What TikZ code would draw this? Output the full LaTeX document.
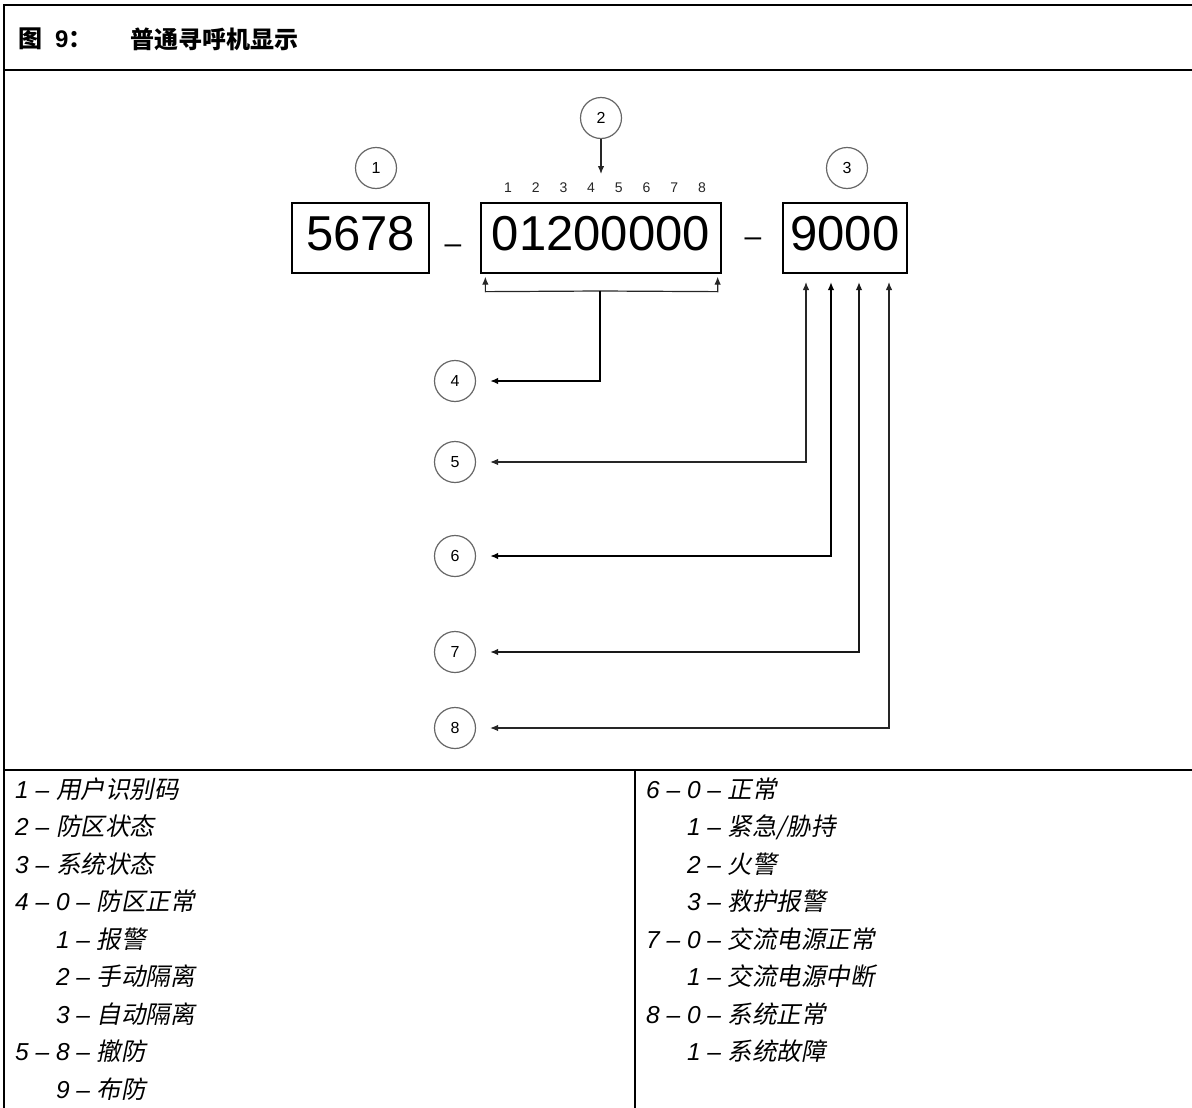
\documentclass[tikz,border=0pt]{standalone}
\usepackage{fontspec}
\setmainfont{Liberation Sans}
\newfontfamily\cjk{Noto Sans CJK SC}
\newfontfamily\cjkit{Noto Sans CJK SC}[FakeSlant=0.2]
\usetikzlibrary{arrows.meta,calc}
\newcommand{\zhit}[1]{{\cjkit #1}}
\begin{document}
\begin{tikzpicture}[x=1pt,y=-1pt,
  >={Latex[length=8pt,width=6.5pt]},
  frameline/.style={line width=2.7pt,black},
  valbox/.style={draw=black,line width=1.3pt,minimum height=70pt,inner sep=0pt},
  bignum/.style={inner sep=0pt,font=\fontsize{49}{49}\selectfont},
  sepdash/.style={inner sep=0pt,anchor=base,font=\fontsize{30}{30}\selectfont},
  posnum/.style={inner sep=0pt,font=\fontsize{14}{14}\selectfont,text=black!85},
  callout/.style={circle,draw=black!60,line width=1.2pt,minimum size=41pt,inner sep=0pt,font=\fontsize{16}{16}\selectfont},
  thinline/.style={line width=1.2pt,black!85},
  thickline/.style={line width=2pt,black},
  midline/.style={line width=1.5pt,black!90},
  legend/.style={anchor=base west,inner sep=0pt,font=\fontsize{24.5}{24.5}\selectfont\itshape},
  titletext/.style={anchor=west,inner sep=0pt,font=\fontsize{24}{24}\selectfont}
]
\useasboundingbox (0,0) rectangle (1192,1108);

% frame
\draw[frameline] (1192,5) -- (4,5) -- (4,1108);
\draw[frameline] (4,70) -- (1192,70);
\draw[frameline] (4,770) -- (1192,770);
\draw[frameline] (635,770) -- (635,1108);

% title
\node[titletext] (tnum) at (18,39) {{\cjk\bfseries 图}\hspace{13pt}{\bfseries 9}{\cjk\bfseries ：}};
\node[titletext] (ttext) at (130,39) {\cjk\bfseries 普通寻呼机显示};

% value boxes
\node[valbox,minimum width=137pt] (boxA) at (360.5,238) {};
\node[valbox,minimum width=240pt] (boxB) at (601,238) {};
\node[valbox,minimum width=124pt] (boxC) at (845,238) {};
\node[bignum] (numA) at (360.5,234) {5678};
\node[bignum] (numB) at (601,234) {01200000};
\node[bignum] (numC) at (845,234) {9000};
\node[sepdash] (dash1) at (453,253) {–};
\node[sepdash] (dash2) at (753,246) {–};

% position digits
\foreach \i in {1,...,8}{
  \node[posnum] (p\i) at ({508+27.7*(\i-1)},188) {\i};
}

% callouts
\node[callout] (c1) at (376,168) {1};
\node[callout] (c2) at (601,118) {2};
\node[callout] (c3) at (847,168) {3};
\node[callout] (c4) at (455,381) {4};
\node[callout] (c5) at (455,462) {5};
\node[callout] (c6) at (455,556) {6};
\node[callout] (c7) at (455,652) {7};
\node[callout] (c8) at (455,728) {8};

% arrow from 2
\coordinate (t2) at (601,174);
\draw[thinline,->] (c2.south) -- (t2);

% bracket under box B
\coordinate (brL) at ($(boxB.south west)+(5,18)$);
\coordinate (brR) at ($(boxB.south east)+(-4,18)$);
\coordinate (brM) at (600,291);
\draw[thinline,->] (brM) -- (brL) -- ($(boxB.south west)+(5,3)$);
\draw[thinline,->] (brM) -- (brR) -- ($(boxB.south east)+(-4,3)$);
\draw[thickline,->] (brM) |- ($(c4.east)+(14,0)$);

% arrows to box C
\coordinate (t5) at (806,282);
\coordinate (t6) at (831,282);
\coordinate (t7) at (859,282);
\coordinate (t8) at (889,282);
\draw[thinline,<->] ($(c5.east)+(14,0)$) -| (t5);
\draw[thickline,<->] ($(c6.east)+(14,0)$) -| (t6);
\draw[midline,<->] ($(c7.east)+(14,0)$) -| (t7);
\draw[thinline,<->] ($(c8.east)+(14,0)$) -| (t8);

% legend left
\node[legend] (l1) at (15,798) {1 – \zhit{用户识别码}};
\node[legend] (l2) at (15,835.5) {2 – \zhit{防区状态}};
\node[legend] (l3) at (15,873) {3 – \zhit{系统状态}};
\node[legend] (l4) at (15,910.5) {4 – 0 – \zhit{防区正常}};
\node[legend] (l5) at (15,948) {\phantom{4 –\ }1 – \zhit{报警}};
\node[legend] (l6) at (15,985.5) {\phantom{4 –\ }2 – \zhit{手动隔离}};
\node[legend] (l7) at (15,1023) {\phantom{4 –\ }3 – \zhit{自动隔离}};
\node[legend] (l8) at (15,1060.5) {5 – 8 – \zhit{撤防}};
\node[legend] (l9) at (15,1098) {\phantom{5 –\ }9 – \zhit{布防}};

% legend right
\node[legend] (r1) at (646,798) {6 – 0 – \zhit{正常}};
\node[legend] (r2) at (646,835.5) {\phantom{6 –\ }1 – \zhit{紧急/胁持}};
\node[legend] (r3) at (646,873) {\phantom{6 –\ }2 – \zhit{火警}};
\node[legend] (r4) at (646,910.5) {\phantom{6 –\ }3 – \zhit{救护报警}};
\node[legend] (r5) at (646,948) {7 – 0 – \zhit{交流电源正常}};
\node[legend] (r6) at (646,985.5) {\phantom{7 –\ }1 – \zhit{交流电源中断}};
\node[legend] (r7) at (646,1023) {8 – 0 – \zhit{系统正常}};
\node[legend] (r8) at (646,1060.5) {\phantom{8 –\ }1 – \zhit{系统故障}};
\end{tikzpicture}
\end{document}
